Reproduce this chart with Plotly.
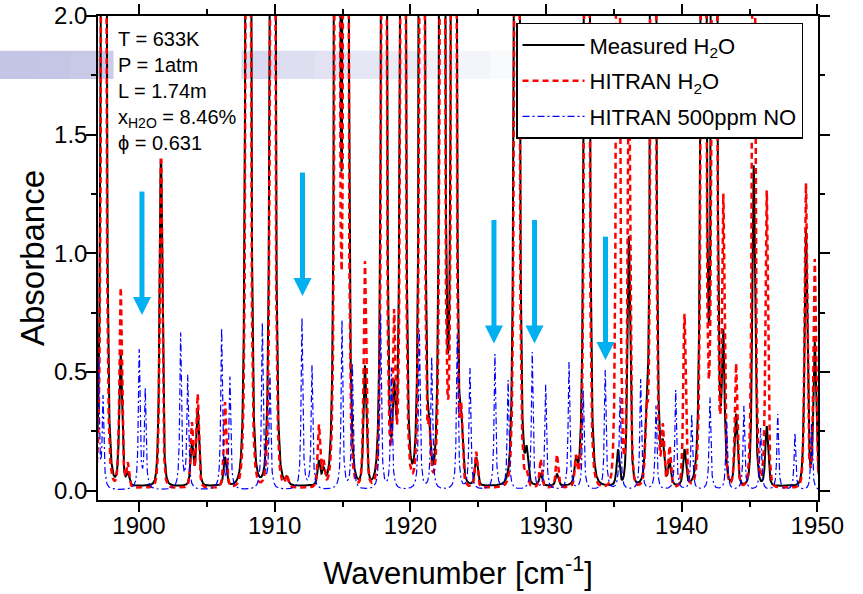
import numpy as np
import plotly.graph_objects as go

FONT = "Liberation Sans, Arial, sans-serif"

# ---------------- data ----------------
# H2O lines: centre [cm-1], measured peak absorbance, HITRAN peak absorbance
h2o_center = [1897.40, 1898.65, 1899.17, 1901.62, 1903.90, 1904.32, 1906.34, 1908.05,
              1909.85, 1910.90, 1913.26, 1913.60, 1914.60, 1915.25, 1916.65, 1918.05,
              1918.80, 1919.45, 1920.85, 1921.40, 1922.35, 1923.20, 1923.75, 1924.85,
              1927.84, 1928.57, 1929.60, 1930.80, 1932.20, 1933.00, 1935.30, 1936.10,
              1937.40, 1937.90, 1938.60, 1939.10, 1940.20, 1941.60, 1942.40, 1943.06,
              1944.00, 1945.30, 1946.26, 1949.15, 1949.80]
h2o_measured = [12, 0.55, 0.05, 1.40, 0.18, 0.32, 0.12, 12,
                12, 0.03, 0.10, 0.06, 12, 12, 0.50, 12,
                0.35, 12, 12, 0.15, 12, 12, 0.20, 0.12,
                12, 0.13, 0.05, 0.05, 0.10, 12, 0.15, 1.05,
                0.20, 12, 0.15, 0.10, 0.15, 12, 12, 0.60,
                0.30, 1.35, 0.25, 1.08, 0.60]
h2o_hitran = [12, 0.84, 0.10, 1.42, 0.27, 0.39, 0.36, 12,
              12, 0.05, 0.26, 0.10, 12, 12, 0.95, 12,
              0.69, 12, 12, 0.21, 12, 12, 0.28, 0.15,
              12, 0.05, 0.12, 0.14, 0.12, 12, 6.0, 1.90,
              0.26, 12, 0.24, 0.17, 0.73, 12, 12, 1.20,
              0.52, 4.0, 1.25, 1.28, 0.96]

# NO lines (HITRAN, 500 ppm): centre [cm-1], peak absorbance
no_center = [1897.00, 1897.35, 1900.02, 1900.46, 1903.07, 1903.59, 1906.09, 1906.70,
             1909.09, 1909.65, 1912.01, 1912.75, 1914.96, 1915.72, 1917.80, 1918.60,
             1920.66, 1921.57, 1923.46, 1924.39, 1926.23, 1927.20, 1928.98, 1929.97,
             1931.69, 1932.74, 1934.36, 1935.45, 1936.97, 1938.10, 1939.55, 1940.73,
             1942.08, 1943.30, 1944.58, 1945.81, 1947.07, 1948.34, 1949.57]
no_peak = [0.55, 0.38, 0.585, 0.417, 0.656, 0.474, 0.677, 0.47,
           0.698, 0.48, 0.722, 0.52, 0.712, 0.53, 0.737, 0.51,
           0.67, 0.558, 0.65, 0.51, 0.57, 0.46, 0.579, 0.44,
           0.537, 0.417, 0.504, 0.39, 0.466, 0.354, 0.42, 0.32,
           0.39, 0.29, 0.354, 0.26, 0.32, 0.24, 0.28]

# arrows marking NO lines: x, tip y, tail y
arrow_x = [1900.22, 1912.05, 1926.16, 1929.15, 1934.38]
arrow_tip = [0.74, 0.82, 0.62, 0.62, 0.55]
arrow_tail = [1.26, 1.34, 1.14, 1.14, 1.07]

x_ticks = [1900, 1910, 1920, 1930, 1940, 1950]
y_ticks = [0.0, 0.5, 1.0, 1.5, 2.0]

conditions = ["T = 633K", "P = 1atm", "L = 1.74m", "x<sub>H2O</sub> = 8.46%", "\u03d5 = 0.631"]

X_RANGE = [1896.98, 1950.04]
Y_RANGE = [-0.04, 2.0]
PLOT_W, PLOT_H = 720, 484

# ---------------- spectra built from the line lists ----------------
wn = np.arange(1896.90, 1950.10, 0.01)


def spectrum(centers, peaks, gamma, power, base):
    y = np.full_like(wn, base)
    for c, a in zip(centers, peaks):
        y += a / (1.0 + ((wn - c) / gamma) ** 2) ** power
    return y


y_meas = spectrum(h2o_center, h2o_measured, 0.18, 2, 0.02)
y_hitran = spectrum(h2o_center, h2o_hitran, 0.16, 2, 0.012)
y_no = spectrum(no_center, no_peak, 0.07, 1, 0.0)

fig = go.Figure()
fig.add_trace(go.Scatter(x=wn, y=y_meas, mode="lines", name="Measured H<sub>2</sub>O",
                         legendgroup="a", line=dict(color="black", width=2)))
fig.add_trace(go.Scatter(x=wn, y=y_hitran, mode="lines", name="HITRAN H<sub>2</sub>O",
                         legendgroup="b", line=dict(color="#ff0000", width=2.5, dash="6px,4px")))
fig.add_trace(go.Scatter(x=wn, y=y_no, mode="lines", name="HITRAN 500ppm NO",
                         legendgroup="c", line=dict(color="#0000ff", width=1.2, dash="7px,3px,2px,3px")))

# decorative slide band behind the chart (fading lavender)
n_seg = 16
x0_canvas, x1_canvas = 0, 560
for i in range(n_seg):
    t = i / (n_seg - 1)
    r = int(196 + (255 - 196) * t ** 1.3)
    g = int(197 + (255 - 197) * t ** 1.3)
    b = int(230 + (255 - 230) * t ** 1.3)
    xa = x0_canvas + (x1_canvas - x0_canvas) * i / n_seg
    xb = x0_canvas + (x1_canvas - x0_canvas) * (i + 1) / n_seg
    fig.add_shape(type="rect", xref="paper", yref="paper",
                  x0=(xa - 98) / PLOT_W, x1=(xb - 98) / PLOT_W + 0.001,
                  y0=0.870, y1=0.928, fillcolor=f"rgb({r},{g},{b})",
                  line=dict(width=0), layer="below")

# blue arrows drawn as shapes (shaft + triangular head)
px_per_x = PLOT_W / (X_RANGE[1] - X_RANGE[0])
px_per_y = PLOT_H / (Y_RANGE[1] - Y_RANGE[0])
head_half_w = 9.0 / px_per_x
head_len = 18.0 / px_per_y
for xa, yt, yb in zip(arrow_x, arrow_tip, arrow_tail):
    fig.add_shape(type="line", xref="x", yref="y", x0=xa, x1=xa, y0=yb, y1=yt + head_len * 0.9,
                  line=dict(color="#00B0F0", width=5))
    fig.add_shape(type="path", xref="x", yref="y",
                  path=f"M {xa - head_half_w},{yt + head_len} L {xa + head_half_w},{yt + head_len} L {xa},{yt} Z",
                  fillcolor="#00B0F0", line=dict(width=0))

fig.add_annotation(text="<br>".join(conditions), xref="paper", yref="paper",
                   x=0.021, y=0.985, xanchor="left", yanchor="top", align="left",
                   showarrow=False, bgcolor="white", borderpad=4,
                   font=dict(family=FONT, size=20, color="black"))

axis_common = dict(showline=True, linecolor="black", linewidth=1.5, mirror="allticks",
                   ticks="outside", ticklen=10, tickwidth=1.5, tickcolor="black",
                   showgrid=False, zeroline=False,
                   tickfont=dict(family=FONT, size=24, color="black"))

fig.update_xaxes(range=X_RANGE, tickvals=x_ticks, ticklabelstandoff=-7,
                 minor=dict(dtick=5, tick0=1900, ticks="outside", ticklen=5, tickwidth=1.5,
                            tickcolor="black"),
                 title=dict(text="Wavenumber [cm<sup>-1</sup>]", standoff=25,
                            font=dict(family=FONT, size=31, color="black")),
                 **axis_common)
fig.update_yaxes(range=Y_RANGE, tickvals=y_ticks, tickformat=".1f", ticklabelstandoff=-6,
                 minor=dict(dtick=0.25, tick0=0, ticks="outside", ticklen=5, tickwidth=1.5,
                            tickcolor="black"),
                 title=dict(text="Absorbance", standoff=0,
                            font=dict(family=FONT, size=33, color="black")),
                 **axis_common)

fig.update_layout(
    width=863, height=594,
    margin=dict(l=98, r=45, t=16, b=94, autoexpand=False),
    paper_bgcolor="white", plot_bgcolor="rgba(0,0,0,0)",
    font=dict(family=FONT, color="black"),
    showlegend=True,
    legend=dict(x=0.5806, y=0.986, xanchor="left", yanchor="top",
                bgcolor="white", bordercolor="black", borderwidth=1.5,
                font=dict(family=FONT, size=22, color="black"),
                itemwidth=62, traceorder="grouped", tracegroupgap=4),
)

fig.write_html("out.html", config={"displayModeBar": False},
               post_script="document.body.style.margin='0px';")
